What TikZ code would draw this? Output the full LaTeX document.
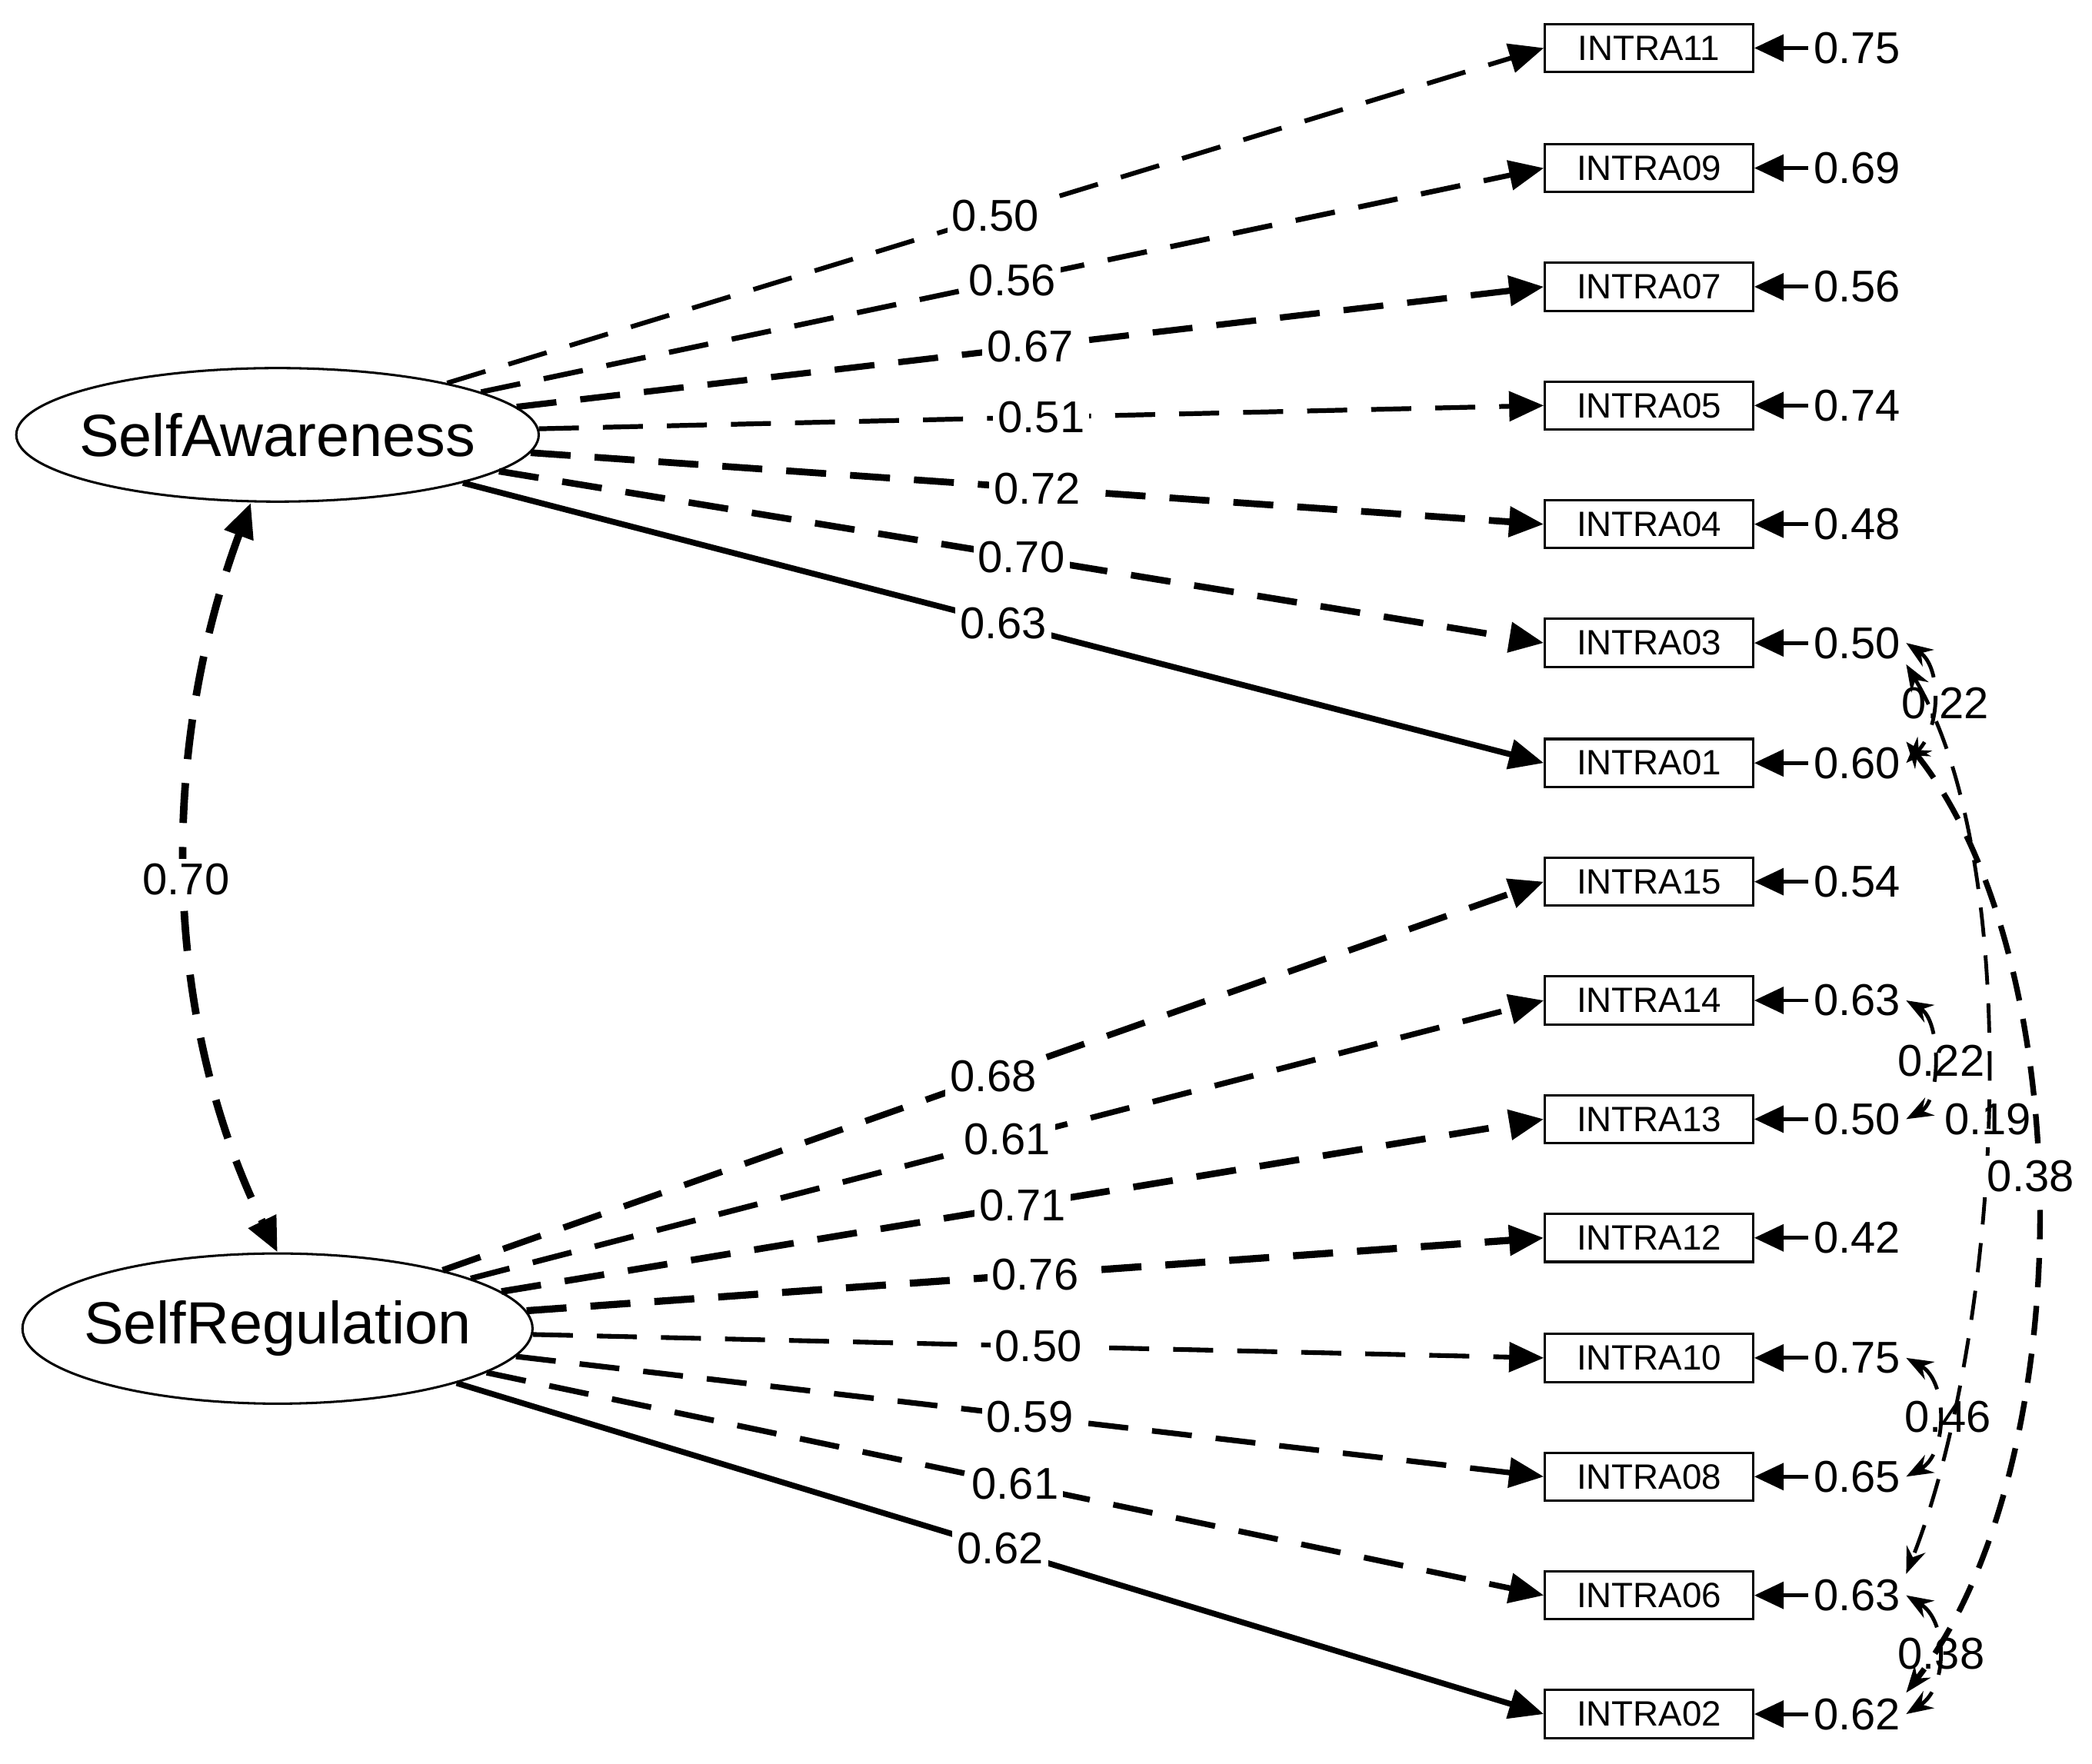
\documentclass[tikz,border=0pt]{standalone}
\usepackage{fontspec}
\setmainfont{Liberation Sans}
\usetikzlibrary{arrows.meta,shapes.geometric}
\begin{document}
\begin{tikzpicture}[x=0.1mm,y=-0.1mm,
  obs/.style={draw,line width=0.5pt,minimum width=15.6mm,minimum height=3.6mm,inner sep=0pt,font=\fontsize{7.5}{8}\selectfont},
  lat/.style={draw,ellipse,line width=0.5pt,inner xsep=-1mm,inner ysep=1.9mm,font=\fontsize{12.7}{14}\selectfont},
  val/.style={font=\fontsize{9.5}{11}\selectfont,inner sep=1pt},
  lab/.style={font=\fontsize{9.5}{11}\selectfont,fill=white,inner sep=1pt},
  ldash/.style={dash pattern=on 3mm off 1.8mm},
  load/.style={-{Triangle[length=2.6mm,width=2.2mm]}},
  res/.style={-{Triangle[length=2.2mm,width=2mm]},line width=0.8pt},
  cov/.style={{Stealth[length=2mm]}-{Stealth[length=2mm]},line width=0.8pt,dash pattern=on 2.2mm off 1.4mm}]
\useasboundingbox (0,0) rectangle (1568,1322);
\node[lat] (SA) at (208,326) {SelfAwareness};
\node[lat] (SR) at (208,996) {SelfRegulation};
\foreach \n/\y/\l/\r/\s in {11/36/0.50/0.75/ldash,09/126/0.56/0.69/ldash,07/215/0.67/0.56/ldash,05/304/0.51/0.74/ldash,04/393/0.72/0.48/ldash,03/482/0.70/0.50/ldash,01/572/0.63/0.60/solid}{
  \node[obs] (b\n) at (1236,\y) {INTRA\n};
  \node[val] (r\n) at (1392,\y) {\r};
  \draw[res] (r\n) -- (b\n);
  \pgfmathsetmacro{\w}{2*\l}
  \draw[load,\s,line width=\w pt] (SA) -- (b\n.west) node[lab,pos=0.5] {\l};
}
\foreach \n/\y/\l/\r/\s in {15/661/0.68/0.54/ldash,14/750/0.61/0.63/ldash,13/839/0.71/0.50/ldash,12/928/0.76/0.42/ldash,10/1018/0.50/0.75/ldash,08/1107/0.59/0.65/ldash,06/1196/0.61/0.63/ldash,02/1285/0.62/0.62/solid}{
  \node[obs] (b\n) at (1236,\y) {INTRA\n};
  \node[val] (r\n) at (1392,\y) {\r};
  \draw[res] (r\n) -- (b\n);
  \pgfmathsetmacro{\w}{2*\l}
  \draw[load,\s,line width=\w pt] (SR) -- (b\n.west) node[lab,pos=0.5] {\l};
}
% factor covariance
\draw[line width=1.6pt,dash pattern=on 3mm off 1.8mm,{Triangle[length=2.6mm,width=2.2mm]}-{Triangle[length=2.6mm,width=2.2mm]}]
  (SA.south) ++(-20,0) coordinate (sa1)
  (sa1) .. controls (120,560) and (120,760) .. (SR.north) node[pos=0.5,lab] {0.70};
% residual covariances
\draw[cov] (r03.east) .. controls (1455,500) and (1455,545) .. (r01.east);
\node[val] at (1458,527) {0.22};
\draw[cov] (r03.south east) .. controls (1520,650) and (1500,1000) .. (r06.north east);
\node[val] at (1490,839) {0.19};
\draw[cov,line width=1.2pt] (r01.north east) .. controls (1560,720) and (1560,1100) .. (r02.north east);
\node[val,fill=white] at (1522,882) {0.38};
\draw[cov] (r14.east) .. controls (1455,765) and (1455,825) .. (r13.east);
\node[val] at (1455,795) {0.22};
\draw[cov] (r10.east) .. controls (1460,1035) and (1460,1090) .. (r08.east);
\node[val] at (1460,1062) {0.46};
\draw[cov] (r06.east) .. controls (1460,1215) and (1460,1265) .. (r02.east);
\node[val] at (1455,1240) {0.38};
\end{tikzpicture}
\end{document}
